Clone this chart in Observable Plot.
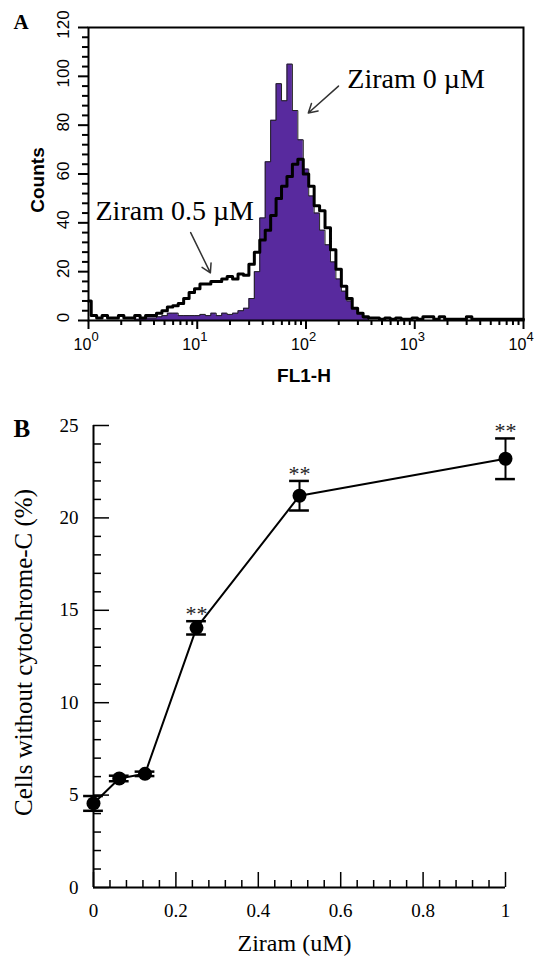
<!DOCTYPE html>
<html><head><meta charset="utf-8">
<script src="https://cdn.jsdelivr.net/npm/d3@7"></script>
<script src="https://cdn.jsdelivr.net/npm/@observablehq/plot@0.6"></script>
<style>
body{margin:0;background:#fff;}
#chart svg{display:block;}
</style></head><body><div id="chart"></div>
<script>
// ---------- Panel A: flow cytometry histogram ----------
const binExp = [0,0.05,0.1,0.15,0.2,0.25,0.3,0.35,0.4,0.45,0.5,0.55,0.6,0.65,0.7,0.75,0.8,0.85,0.9,0.95,
  1,1.05,1.1,1.15,1.2,1.25,1.3,1.35,1.4,1.45,1.5,1.55,1.6,1.65,1.7,1.75,1.8,1.85,1.9,1.95,
  2,2.05,2.1,2.15,2.2,2.25,2.3,2.35,2.4,2.45,2.5,2.55,2.6,2.65,2.7,2.75,2.8,2.85,2.9,2.95,
  3,3.05,3.1,3.15,3.2,3.25,3.3,3.35,3.4,3.45,3.5,3.55,3.6,3.65,3.7,3.75,3.8,3.85,3.9,3.95,4];
const countsZiram0 = [0,0,0,0,0,0,0,0,0,0.5,1,1,1,1.5,2,3,3,2,2,2,
  2,2.5,2,3,2,3,2.5,3,4,5,9,20,42,65,82,97,90,105,86,74,
  62,51,44,37,31,24,17,12,8,5,3,1,0,0,0,0,0,0,0,0,
  0,0,0,0,0,0,0,0,0,0,0,0,0,0,0,0,0,0,0,0,0];
const countsZiram05 = [8,2,1,2,1,1,2,1,1,2,1,2,2,3,4,5.5,6,7,9,11.5,
  13,15,15,16,16,17,18,17,19,18.5,23,28,33,37,43,50,55,59,64,66,
  60,55,47,45,38,29,21,14,9,5,3,1.5,1,1,0.5,1,0.5,1,0.5,0.5,
  1,0.5,1.5,1.5,0.5,1.5,0.5,0.5,0.5,0.5,1.5,0.5,0.5,0.5,0.5,0.5,0.5,0.5,0.5,0.5,0.5];
const countTicks = [0,20,40,60,80,100,120];
const countTickLabels = ["0","20","40","60","80","100","120"];
const countMinor = [4,8,12,16,24,28,32,36,44,48,52,56,64,68,72,76,84,88,92,96,104,108,112,116];
const flMajor = [1,10,100,1000,10000];
const flBase = ["10","10","10","10","10"];
const flExp = ["0","1","2","3","4"];
const flMinor = [2,3,4,5,6,7,8,9,20,30,40,50,60,70,80,90,200,300,400,500,600,700,800,900,2000,3000,4000,5000,6000,7000,8000,9000];
const annotA = ["Ziram 0 \u00b5M","Ziram 0.5 \u00b5M"];
const annotAX = [240, 1.16];
const annotAY = [99, 45];
const arrowA = [{x1:199,y1:96,x2:105,y2:85},{x1:8.7,y1:36,x2:13.2,y2:19.5}];

// ---------- Panel B: cytochrome-C ----------
const ziram = [0,0.0625,0.125,0.25,0.5,1];
const cellsPct = [4.55,5.9,6.15,14.05,21.2,23.2];
const cellsErr = [0.4,0.15,0.12,0.36,0.8,1.1];
const sigMarks = ["","","","**","**","**"];
const pctTicks = [0,5,10,15,20,25];
const pctTickLabels = ["0","5","10","15","20","25"];
const pctMinor = [1,2,3,4,6,7,8,9,11,12,13,14,16,17,18,19,21,22,23,24];
const ziramTicks = [0,0.2,0.4,0.6,0.8,1];
const ziramTickLabels = ["0","0.2","0.4","0.6","0.8","1"];
const ziramMinor = [0.04,0.08,0.12,0.16,0.24,0.28,0.32,0.36,0.44,0.48,0.52,0.56,0.64,0.68,0.72,0.76,0.84,0.88,0.92,0.96];

const sans = "Liberation Sans, Arial, sans-serif";
const serif = "Liberation Serif, Times New Roman, serif";

const histA = binExp.map((e, i) => ({fl: 10 ** e, c0: countsZiram0[i], c05: countsZiram05[i]}));

const plotA = Plot.plot({
  width: 539, height: 395,
  marginLeft: 88, marginRight: 16, marginTop: 27, marginBottom: 75,
  x: {type: "log", domain: [1, 10000], axis: null},
  y: {domain: [0, 120], axis: null},
  style: {background: "white", color: "black"},
  marks: [
    Plot.areaY(histA, {x: "fl", y: "c0", curve: "step", fill: "#582a9e"}),
    Plot.lineY(histA, {x: "fl", y: "c0", curve: "step", stroke: "#222", strokeWidth: 1}),
    Plot.lineY(histA, {x: "fl", y: "c05", curve: "step", stroke: "#000", strokeWidth: 3}),
    Plot.frame({stroke: "#000", strokeWidth: 2}),
    Plot.axisY(countTicks, {anchor: "left", tickSize: 10, tickFormat: () => "", label: null, strokeWidth: 2}),
    Plot.axisY(countMinor, {anchor: "left", tickSize: 6, tickFormat: () => "", label: null, strokeWidth: 2}),
    Plot.axisX(flMajor, {anchor: "bottom", tickSize: 9, tickFormat: () => "", label: null, strokeWidth: 2}),
    Plot.axisX(flMinor, {anchor: "bottom", tickSize: 5, tickFormat: () => "", label: null, strokeWidth: 2}),
    Plot.text(countTicks, {y: d => d, frameAnchor: "left", textAnchor: "middle", text: (d, i) => countTickLabels[i], rotate: -90, dx: -25, dy: -3, fontSize: 17, fontFamily: sans}),
    Plot.text(flMajor, {x: d => d, frameAnchor: "bottom", text: (d, i) => flBase[i], dx: -6, dy: 29, fontSize: 16, fontFamily: sans}),
    Plot.text(flMajor, {x: d => d, frameAnchor: "bottom", text: (d, i) => flExp[i], textAnchor: "start", dx: 3, dy: 20, fontSize: 13, fontFamily: sans}),
    Plot.text(["FL1-H"], {frameAnchor: "bottom", dx: -2, dy: 61, fontSize: 19, fontWeight: "bold", fontFamily: sans}),
    Plot.text(["Counts"], {frameAnchor: "left", textAnchor: "middle", rotate: -90, dx: -51, dy: 6, fontSize: 19, fontWeight: "bold", fontFamily: sans}),
    Plot.text(["A"], {frameAnchor: "top-left", textAnchor: "start", dx: -75, dy: -13, fontSize: 21, fontWeight: "bold", fontFamily: serif}),
    Plot.text(annotA, {x: (d, i) => annotAX[i], y: (d, i) => annotAY[i], textAnchor: "start", fontSize: 28, fontFamily: serif}),
    Plot.arrow(arrowA, {x1: "x1", y1: "y1", x2: "x2", y2: "y2", stroke: "#333", strokeWidth: 1.5, headLength: 10})
  ]
});

const dataB = ziram.map((z, i) => ({z, v: cellsPct[i], lo: cellsPct[i] - cellsErr[i], hi: cellsPct[i] + cellsErr[i], sig: sigMarks[i]}));

const plotB = Plot.plot({
  width: 539, height: 563,
  marginLeft: 93, marginRight: 34, marginTop: 30, marginBottom: 71,
  x: {domain: [0, 1], axis: null},
  y: {domain: [0, 25], axis: null},
  style: {background: "white", color: "black"},
  marks: [
    Plot.ruleX([0], {y1: 0, y2: 25, strokeWidth: 2}),
    Plot.ruleY([0], {x1: 0, x2: 1, strokeWidth: 2}),
    Plot.axisY(pctTicks, {anchor: "left", tickSize: -16, tickFormat: () => "", label: null, strokeWidth: 1.5}),
    Plot.axisY(pctMinor, {anchor: "left", tickSize: -8, tickFormat: () => "", label: null, strokeWidth: 1.5}),
    Plot.axisY(pctTicks, {anchor: "left", tickSize: 0, tickPadding: 15, tickFormat: (d, i) => pctTickLabels[i], label: null, fontSize: 19, fontFamily: serif}),
    Plot.axisX(ziramTicks, {anchor: "bottom", tickSize: -15, tickFormat: () => "", label: null, strokeWidth: 1.5}),
    Plot.axisX(ziramMinor, {anchor: "bottom", tickSize: -7, tickFormat: () => "", label: null, strokeWidth: 1.5}),
    Plot.axisX(ziramTicks, {anchor: "bottom", tickSize: 0, tickPadding: 16, tickFormat: (d, i) => ziramTickLabels[i], label: null, fontSize: 19, fontFamily: serif}),
    Plot.ruleX(dataB, {x: "z", y1: "lo", y2: "hi", strokeWidth: 2}),
    Plot.ruleY(dataB, {y: "lo", x1: d => d.z - 0.024, x2: d => d.z + 0.024, strokeWidth: 2.5}),
    Plot.ruleY(dataB, {y: "hi", x1: d => d.z - 0.024, x2: d => d.z + 0.024, strokeWidth: 2.5}),
    Plot.line(dataB, {x: "z", y: "v", strokeWidth: 2}),
    Plot.dot(dataB, {x: "z", y: "v", r: 7, fill: "black"}),
    Plot.text(dataB, {x: "z", y: "hi", text: "sig", dy: -7, fontSize: 22, fill: "#222", fontFamily: serif}),
    Plot.text(["Cells without cytochrome-C (%)"], {frameAnchor: "left", textAnchor: "middle", rotate: -90, dx: -70, dy: -4, fontSize: 25, fontFamily: serif}),
    Plot.text(["Ziram (uM)"], {frameAnchor: "bottom", dx: -5, dy: 63, fontSize: 24, fontFamily: serif}),
    Plot.text(["B"], {frameAnchor: "top-left", textAnchor: "start", dx: -80, dy: -6, fontSize: 25, fontWeight: "bold", fontFamily: serif})
  ]
});

const chart = document.getElementById("chart");
chart.appendChild(plotA);
chart.appendChild(plotB);
</script>
</body></html>
